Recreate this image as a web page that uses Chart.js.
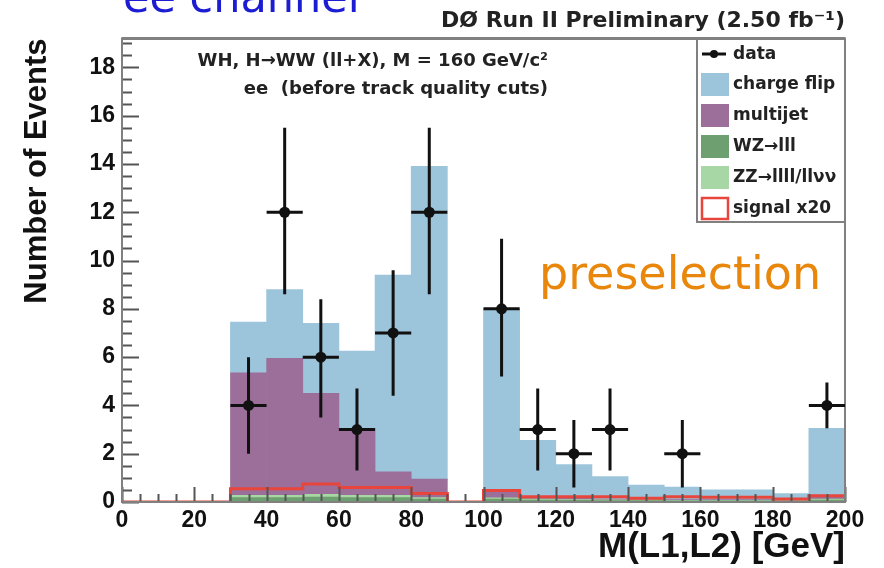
<!DOCTYPE html>
<html>
<head>
<meta charset="utf-8">
<script src="https://cdn.jsdelivr.net/npm/chart.js@4/dist/chart.umd.min.js"></script>
<style>
  html, body { margin: 0; padding: 0; background: #fff; }
  #wrap { width: 884px; height: 568px; }
</style>
</head>
<body>
<div id="wrap"><canvas id="chart" width="884" height="568"></canvas></div>
<script>
// bin low edges (GeV), 10 GeV wide
const binEdges = [0, 10, 20, 30, 40, 50, 60, 70, 80, 90, 100, 110, 120, 130, 140, 150, 160, 170, 180, 190];

// stacked backgrounds, per bin
const wz         = [0, 0, 0, 0.18, 0.18, 0.20, 0.18, 0.18, 0.12, 0, 0.12, 0.08, 0.07, 0.06, 0.06, 0.05, 0.05, 0.05, 0.04, 0.08];
const zz         = [0, 0, 0, 0.10, 0.10, 0.12, 0.10, 0.10, 0.06, 0, 0.05, 0.04, 0.03, 0.03, 0.03, 0.02, 0.02, 0.02, 0.02, 0.04];
const multijet   = [0, 0, 0, 5.07, 5.67, 4.18, 2.77, 0.97, 0.77, 0, 0.33, 0.08, 0.05, 0.03, 0.03, 0.03, 0.03, 0.03, 0.02, 0.08];
const chargeFlip = [0, 0, 0, 2.10, 2.85, 2.90, 3.20, 8.15, 12.95, 0, 7.50, 2.35, 1.40, 0.93, 0.58, 0.52, 0.40, 0.40, 0.27, 2.85];

// signal x20, drawn as outline
const signal = [0, 0, 0, 0.55, 0.55, 0.75, 0.60, 0.60, 0.35, 0, 0.48, 0.22, 0.22, 0.22, 0.16, 0.22, 0.20, 0.20, 0.12, 0.26];

// data points with error bars
const dataX    = [35, 45, 55, 65, 75, 85, 105, 115, 125, 135, 155, 195];
const dataY    = [4, 12, 6, 3, 7, 12, 8, 3, 2, 3, 2, 4];
const dataLow  = [2, 8.6, 3.5, 1.3, 4.4, 8.6, 5.2, 1.3, 0.6, 1.3, 0.6, 3.05];
const dataHigh = [6, 15.5, 8.4, 4.7, 9.6, 15.5, 10.9, 4.7, 3.4, 4.7, 3.4, 4.95];

const yTicks = [0, 2, 4, 6, 8, 10, 12, 14, 16, 18];
const xTicks = [0, 20, 40, 60, 80, 100, 120, 140, 160, 180, 200];

const colors = {
    chargeFlip: '#9cc4da',
    multijet: '#9b6f99',
    wz: '#6e9f70',
    zz: '#a6d7a4',
    signal: '#e8453c'
};

function binData(values) {
    return binEdges.map((e, i) => ({ x: e + 5, y: values[i] }));
}

function stepData(values) {
    const pts = binEdges.map((e, i) => ({ x: e, y: values[i] }));
    pts.push({ x: 200, y: values[values.length - 1] });
    return pts;
}

// frame, inward ticks, error bars, texts, legend
const decorPlugin = {
    id: 'decor',
    afterDatasetsDraw(chart) {
        const ctx = chart.ctx;
        const xs = chart.scales.x, ys = chart.scales.y;
        const a = chart.chartArea;
        ctx.save();

        // ticks pointing inward
        ctx.strokeStyle = '#555';
        ctx.lineWidth = 2;
        ctx.beginPath();
        for (let v = 0; v <= 19; v += 0.5) {
            const y = Math.round(ys.getPixelForValue(v)) + 0.5;
            const len = (v % 2 === 0) ? 17 : 10;
            ctx.moveTo(a.left, y); ctx.lineTo(a.left + len, y);
        }
        for (let v = 0; v <= 200; v += 5) {
            const x = Math.round(xs.getPixelForValue(v)) + 0.5;
            const len = (v % 20 === 0) ? 15 : 8;
            ctx.moveTo(x, a.bottom); ctx.lineTo(x, a.bottom - len);
        }
        ctx.stroke();

        // frame
        ctx.strokeStyle = '#808080';
        ctx.lineWidth = 2;
        ctx.strokeRect(a.left, a.top, a.right - a.left, a.bottom - a.top);
        ctx.lineWidth = 3;
        ctx.beginPath();
        ctx.moveTo(a.left, a.top); ctx.lineTo(a.right, a.top);
        ctx.stroke();

        // data error bars and markers
        ctx.strokeStyle = '#111';
        ctx.fillStyle = '#111';
        ctx.lineWidth = 3;
        for (let i = 0; i < dataX.length; i++) {
            const cx = xs.getPixelForValue(dataX[i]);
            const cy = ys.getPixelForValue(dataY[i]);
            ctx.beginPath();
            ctx.moveTo(cx, ys.getPixelForValue(dataLow[i]));
            ctx.lineTo(cx, ys.getPixelForValue(dataHigh[i]));
            ctx.moveTo(xs.getPixelForValue(dataX[i] - 5), cy);
            ctx.lineTo(xs.getPixelForValue(dataX[i] + 5), cy);
            ctx.stroke();
            ctx.beginPath();
            ctx.arc(cx, cy, 5.5, 0, Math.PI * 2);
            ctx.fill();
        }

        // header texts
        ctx.fillStyle = '#1c1cd2';
        ctx.font = '43px "DejaVu Sans"';
        ctx.textAlign = 'left';
        ctx.textBaseline = 'alphabetic';
        ctx.fillText('ee channel', 123, 12);

        ctx.fillStyle = '#222';
        ctx.font = 'bold 18px "DejaVu Sans"';
        ctx.textAlign = 'right';
        ctx.textBaseline = 'middle';
        ctx.fillText('WH, H\u2192WW (ll+X), M = 160 GeV/c\u00b2', 548, 61);
        ctx.fillText('ee  (before track quality cuts)', 548, 89);

        ctx.fillStyle = '#e8870c';
        ctx.font = '46px "DejaVu Sans"';
        ctx.textAlign = 'left';
        ctx.textBaseline = 'alphabetic';
        ctx.fillText('preselection', 539, 289);

        // legend box
        const lx = 697, ly = 39, lw = a.right - lx, lh = 183;
        ctx.fillStyle = '#fff';
        ctx.fillRect(lx, ly, lw, lh);
        ctx.strokeStyle = '#808080';
        ctx.lineWidth = 2;
        ctx.strokeRect(lx, ly, lw, lh);

        const items = [
            { label: 'data', kind: 'data' },
            { label: 'charge flip', fill: colors.chargeFlip },
            { label: 'multijet', fill: colors.multijet },
            { label: 'WZ\u2192lll', fill: colors.wz },
            { label: 'ZZ\u2192llll/ll\u03bd\u03bd', fill: colors.zz },
            { label: 'signal x20', kind: 'signal' }
        ];
        ctx.font = 'bold 17px "DejaVu Sans"';
        ctx.textAlign = 'left';
        ctx.textBaseline = 'middle';
        items.forEach((it, i) => {
            const cy = i === 0 ? 54 : 84 + (i - 1) * 31;
            if (it.kind === 'data') {
                ctx.strokeStyle = '#111';
                ctx.lineWidth = 3;
                ctx.beginPath();
                ctx.moveTo(702, cy); ctx.lineTo(726, cy);
                ctx.stroke();
                ctx.fillStyle = '#111';
                ctx.beginPath();
                ctx.arc(714, cy, 4, 0, Math.PI * 2);
                ctx.fill();
            } else if (it.kind === 'signal') {
                ctx.strokeStyle = colors.signal;
                ctx.lineWidth = 2.5;
                ctx.strokeRect(702, cy - 10, 26, 21);
            } else {
                ctx.fillStyle = it.fill;
                ctx.fillRect(701, cy - 11, 28, 23);
            }
            ctx.fillStyle = '#222';
            ctx.fillText(it.label, 733, cy + 1);
        });

        ctx.restore();
    }
};

const barDefaults = {
    type: 'bar',
    barPercentage: 1,
    categoryPercentage: 1,
    borderWidth: 0,
    stack: 'bkg'
};

new Chart(document.getElementById('chart'), {
    type: 'bar',
    data: {
        datasets: [
            { ...barDefaults, label: 'WZ\u2192lll', data: binData(wz), backgroundColor: colors.wz, order: 4 },
            { ...barDefaults, label: 'ZZ\u2192llll/ll\u03bd\u03bd', data: binData(zz), backgroundColor: colors.zz, order: 4 },
            { ...barDefaults, label: 'multijet', data: binData(multijet), backgroundColor: colors.multijet, order: 4 },
            { ...barDefaults, label: 'charge flip', data: binData(chargeFlip), backgroundColor: colors.chargeFlip, order: 4 },
            {
                type: 'line',
                label: 'signal x20',
                data: stepData(signal),
                stepped: 'before',
                borderColor: colors.signal,
                borderWidth: 3,
                pointRadius: 0,
                fill: false,
                stack: 'sig',
                order: 1
            }
        ]
    },
    options: {
        responsive: false,
        animation: false,
        layout: { padding: { left: 0, right: 39, top: 0, bottom: 0 } },
        plugins: {
            legend: { display: false },
            tooltip: { enabled: false },
            title: {
                display: true,
                text: 'D\u00d8 Run II Preliminary (2.50 fb\u207b\u00b9)',
                align: 'end',
                color: '#222',
                font: { family: '"DejaVu Sans"', size: 22, weight: 'bold' },
                padding: { top: 8, bottom: 4 }
            }
        },
        scales: {
            x: {
                type: 'linear',
                min: 0,
                max: 200,
                stacked: true,
                offset: false,
                grid: { display: false, drawTicks: false, offset: false },
                border: { display: false },
                afterBuildTicks(scale) { scale.ticks = xTicks.map(v => ({ value: v })); },
                afterFit(scale) { scale.height = 66; },
                ticks: {
                    color: '#111',
                    padding: 5,
                    maxRotation: 0,
                    font: { family: '"Liberation Sans"', size: 23, weight: 'bold' }
                },
                title: {
                    display: true,
                    text: 'M(L1,L2) [GeV]',
                    align: 'end',
                    color: '#111',
                    padding: { top: 0, bottom: 0 },
                    font: { family: '"Liberation Sans"', size: 35, weight: 'bold' }
                }
            },
            y: {
                min: 0,
                max: 19.2,
                stacked: true,
                grid: { display: false, drawTicks: false },
                border: { display: false },
                afterBuildTicks(scale) { scale.ticks = yTicks.map(v => ({ value: v })); },
                afterFit(scale) { scale.width = 122; },
                ticks: {
                    color: '#111',
                    padding: 7,
                    font: { family: '"Liberation Sans"', size: 23, weight: 'bold' }
                },
                title: {
                    display: true,
                    text: 'Number of Events',
                    align: 'end',
                    color: '#111',
                    padding: { top: 19, bottom: 0 },
                    font: { family: '"Liberation Sans"', size: 31, weight: 'bold' }
                }
            }
        }
    },
    plugins: [decorPlugin]
});
</script>
</body>
</html>
